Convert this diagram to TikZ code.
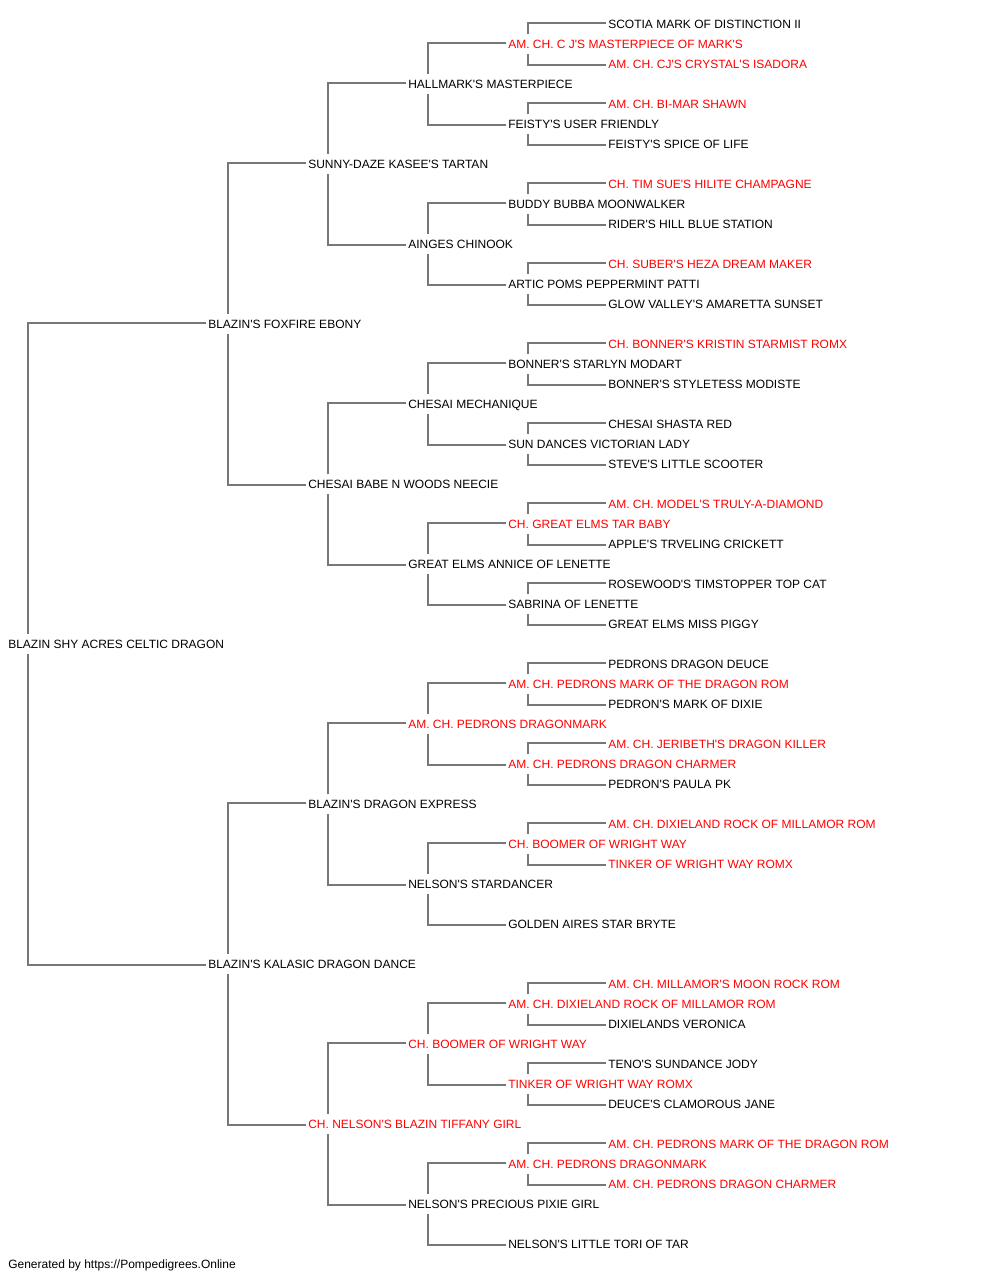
\documentclass[tikz,border=0pt]{standalone}
\usepackage{fontspec}
\newfontfamily\lib{Liberation Sans}
\definecolor{lc}{RGB}{119,119,119}
\definecolor{rd}{RGB}{255,0,0}
\begin{document}
\begin{tikzpicture}[x=0.75pt,y=-0.75pt,
  nm/.style={anchor=west,font=\lib\fontsize{9pt}{10pt}\selectfont,text=black,
    inner xsep=1.5pt,inner ysep=4.25pt,text height=6.5pt,text depth=0pt},
  nr/.style={nm,text=rd},
  ln/.style={draw=lc,line width=1.5pt}]
\fill[white] (0,0) rectangle (1000,1280);
\useasboundingbox (0,0) rectangle (1000,1280);
% generation 0-1-2-3
\node[nm] (r) at (6,644) {BLAZIN SHY ACRES CELTIC DRAGON};
\node[nm] (s) at (206,324) {BLAZIN'S FOXFIRE EBONY};
\node[nm] (d) at (206,964) {BLAZIN'S KALASIC DRAGON DANCE};
\node[nm] (ss) at (306,164) {SUNNY-DAZE KASEE'S TARTAN};
\node[nm] (sd) at (306,484) {CHESAI BABE N WOODS NEECIE};
\node[nm] (ds) at (306,804) {BLAZIN'S DRAGON EXPRESS};
\node[nr] (dd) at (306,1124) {CH. NELSON'S BLAZIN TIFFANY GIRL};
\node[nm] (sss) at (406,84) {HALLMARK'S MASTERPIECE};
\node[nm] (ssd) at (406,244) {AINGES CHINOOK};
\node[nm] (sds) at (406,404) {CHESAI MECHANIQUE};
\node[nm] (sdd) at (406,564) {GREAT ELMS ANNICE OF LENETTE};
\node[nr] (dss) at (406,724) {AM. CH. PEDRONS DRAGONMARK};
\node[nm] (dsd) at (406,884) {NELSON'S STARDANCER};
\node[nr] (dds) at (406,1044) {CH. BOOMER OF WRIGHT WAY};
\node[nm] (ddd) at (406,1204) {NELSON'S PRECIOUS PIXIE GIRL};
% generation 4
\node[nr] (ssss) at (506,44) {AM. CH. C J'S MASTERPIECE OF MARK'S};
\node[nm] (sssd) at (506,124) {FEISTY'S USER FRIENDLY};
\node[nm] (ssds) at (506,204) {BUDDY BUBBA MOONWALKER};
\node[nm] (ssdd) at (506,284) {ARTIC POMS PEPPERMINT PATTI};
\node[nm] (sdss) at (506,364) {BONNER'S STARLYN MODART};
\node[nm] (sdsd) at (506,444) {SUN DANCES VICTORIAN LADY};
\node[nr] (sdds) at (506,524) {CH. GREAT ELMS TAR BABY};
\node[nm] (sddd) at (506,604) {SABRINA OF LENETTE};
\node[nr] (dsss) at (506,684) {AM. CH. PEDRONS MARK OF THE DRAGON ROM};
\node[nr] (dssd) at (506,764) {AM. CH. PEDRONS DRAGON CHARMER};
\node[nr] (dsds) at (506,844) {CH. BOOMER OF WRIGHT WAY};
\node[nm] (dsdd) at (506,924) {GOLDEN AIRES STAR BRYTE};
\node[nr] (ddss) at (506,1004) {AM. CH. DIXIELAND ROCK OF MILLAMOR ROM};
\node[nr] (ddsd) at (506,1084) {TINKER OF WRIGHT WAY ROMX};
\node[nr] (ddds) at (506,1164) {AM. CH. PEDRONS DRAGONMARK};
\node[nm] (dddd) at (506,1244) {NELSON'S LITTLE TORI OF TAR};
% generation 5
\node[nm] (sssss) at (606,24) {SCOTIA MARK OF DISTINCTION II};
\node[nr] (ssssd) at (606,64) {AM. CH. CJ'S CRYSTAL'S ISADORA};
\node[nr] (sssds) at (606,104) {AM. CH. BI-MAR SHAWN};
\node[nm] (sssdd) at (606,144) {FEISTY'S SPICE OF LIFE};
\node[nr] (ssdss) at (606,184) {CH. TIM SUE'S HILITE CHAMPAGNE};
\node[nm] (ssdsd) at (606,224) {RIDER'S HILL BLUE STATION};
\node[nr] (ssdds) at (606,264) {CH. SUBER'S HEZA DREAM MAKER};
\node[nm] (ssddd) at (606,304) {GLOW VALLEY'S AMARETTA SUNSET};
\node[nr] (sdsss) at (606,344) {CH. BONNER'S KRISTIN STARMIST ROMX};
\node[nm] (sdssd) at (606,384) {BONNER'S STYLETESS MODISTE};
\node[nm] (sdsds) at (606,424) {CHESAI SHASTA RED};
\node[nm] (sdsdd) at (606,464) {STEVE'S LITTLE SCOOTER};
\node[nr] (sddss) at (606,504) {AM. CH. MODEL'S TRULY-A-DIAMOND};
\node[nm] (sddsd) at (606,544) {APPLE'S TRVELING CRICKETT};
\node[nm] (sddds) at (606,584) {ROSEWOOD'S TIMSTOPPER TOP CAT};
\node[nm] (sdddd) at (606,624) {GREAT ELMS MISS PIGGY};
\node[nm] (dssss) at (606,664) {PEDRONS DRAGON DEUCE};
\node[nm] (dsssd) at (606,704) {PEDRON'S MARK OF DIXIE};
\node[nr] (dssds) at (606,744) {AM. CH. JERIBETH'S DRAGON KILLER};
\node[nm] (dssdd) at (606,784) {PEDRON'S PAULA PK};
\node[nr] (dsdss) at (606,824) {AM. CH. DIXIELAND ROCK OF MILLAMOR ROM};
\node[nr] (dsdsd) at (606,864) {TINKER OF WRIGHT WAY ROMX};
\node[nr] (ddsss) at (606,984) {AM. CH. MILLAMOR'S MOON ROCK ROM};
\node[nm] (ddssd) at (606,1024) {DIXIELANDS VERONICA};
\node[nm] (ddsds) at (606,1064) {TENO'S SUNDANCE JODY};
\node[nm] (ddsdd) at (606,1104) {DEUCE'S CLAMOROUS JANE};
\node[nr] (dddss) at (606,1144) {AM. CH. PEDRONS MARK OF THE DRAGON ROM};
\node[nr] (dddsd) at (606,1184) {AM. CH. PEDRONS DRAGON CHARMER};
% footer
\node[nm] (foot) at (6,1264) {Generated by https://Pompedigrees.Online};
% connectors
\draw[ln] ([yshift=0.8pt]s.west) -| ([xshift=16.5pt]r.north west);
\draw[ln] ([yshift=-0.5pt]d.west) -| ([xshift=16.5pt]r.south west);
\foreach \p in {s,d,ss,sd,ds,dd,sss,ssd,sds,sdd,dss,dsd,dds,ddd,
  ssss,sssd,ssds,ssdd,sdss,sdsd,sdds,sddd,dsss,dssd,dsds,ddss,ddsd,ddds}{
  \draw[ln] ([yshift=0.8pt]\p s.west) -| ([xshift=16.5pt]\p.north west);
  \draw[ln] ([yshift=-0.5pt]\p d.west) -| ([xshift=16.5pt]\p.south west);
}
\end{tikzpicture}
\end{document}
